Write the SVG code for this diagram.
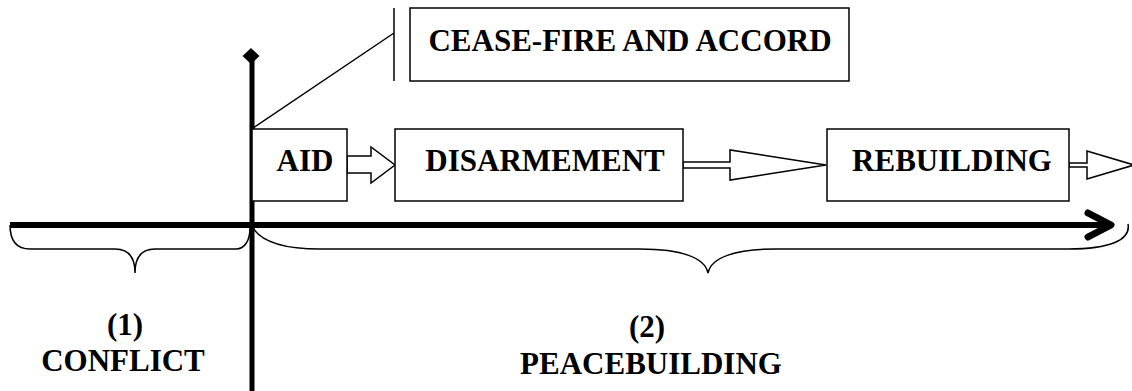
<svg xmlns="http://www.w3.org/2000/svg" width="1132" height="391" viewBox="0 0 1132 391">
<style>
.t{font-family:"Liberation Serif","Times New Roman",serif;font-weight:bold;font-size:31px;fill:#000;text-anchor:middle}
.box{fill:#fff;stroke:#000;stroke-width:1.5}
.ln{fill:none;stroke:#000;stroke-width:1.5}
.arr{fill:#fff;stroke:#000;stroke-width:1.5;stroke-linejoin:miter}
</style>
<rect width="1132" height="391" fill="#fff"/>
<g id="axes">
<line x1="252" y1="58" x2="252" y2="391" stroke="#000" stroke-width="5"/>
<polygon points="251,48 259.5,56 251,64 242.5,56" fill="#000"/>
<line x1="10" y1="225" x2="1108" y2="225" stroke="#000" stroke-width="6"/>
<polyline points="1088,213 1111,225 1088,237" fill="none" stroke="#000" stroke-width="7" stroke-linecap="round" stroke-linejoin="round"/>
</g>
<g id="connectors">
<line class="ln" x1="253" y1="128" x2="394" y2="33"/>
<line class="ln" x1="394" y1="8" x2="394" y2="81"/>
<polygon class="arr" points="347,156 371,156 371,147 395,165 371,183 371,173 347,173"/>
<polygon class="arr" points="683,162 730,162 730,150 826,165 730,180 730,168 683,168"/>
<polygon class="arr" points="1069,163 1087,163 1087,151 1134,165 1087,179 1087,167 1069,167"/>
</g>
<g id="cease">
<rect class="box" x="410" y="8" width="439" height="73"/>
<text class="t" x="630" y="51">CEASE-FIRE AND ACCORD</text>
</g>
<g id="aid">
<rect class="box" x="252" y="129" width="95" height="72"/>
<text class="t" x="305" y="171">AID</text>
</g>
<g id="disarmement">
<rect class="box" x="395" y="129" width="288" height="72"/>
<text class="t" x="545" y="171">DISARMEMENT</text>
</g>
<g id="rebuilding">
<rect class="box" x="827" y="129" width="242" height="72"/>
<text class="t" x="952" y="171">REBUILDING</text>
</g>
<g id="conflict">
<path class="ln" d="M10,225 C10,243 18,249 30,249 L115,249 C128,249 135,257 135,273 C135,257 142,249 155,249 L236,249 C245,249 250,240 250,228"/>
<text class="t" x="125" y="335">(1)</text>
<text class="t" x="123" y="371">CONFLICT</text>
</g>
<g id="peacebuilding">
<path class="ln" d="M253,228 C262,242 285,249 320,249 L640,249 C682,249 705,258 708,273 C711,258 734,249 776,249 L1068,249 C1110,249 1131,240 1128,224"/>
<text class="t" x="647" y="337">(2)</text>
<text class="t" x="651" y="374">PEACEBUILDING</text>
</g>
</svg>
